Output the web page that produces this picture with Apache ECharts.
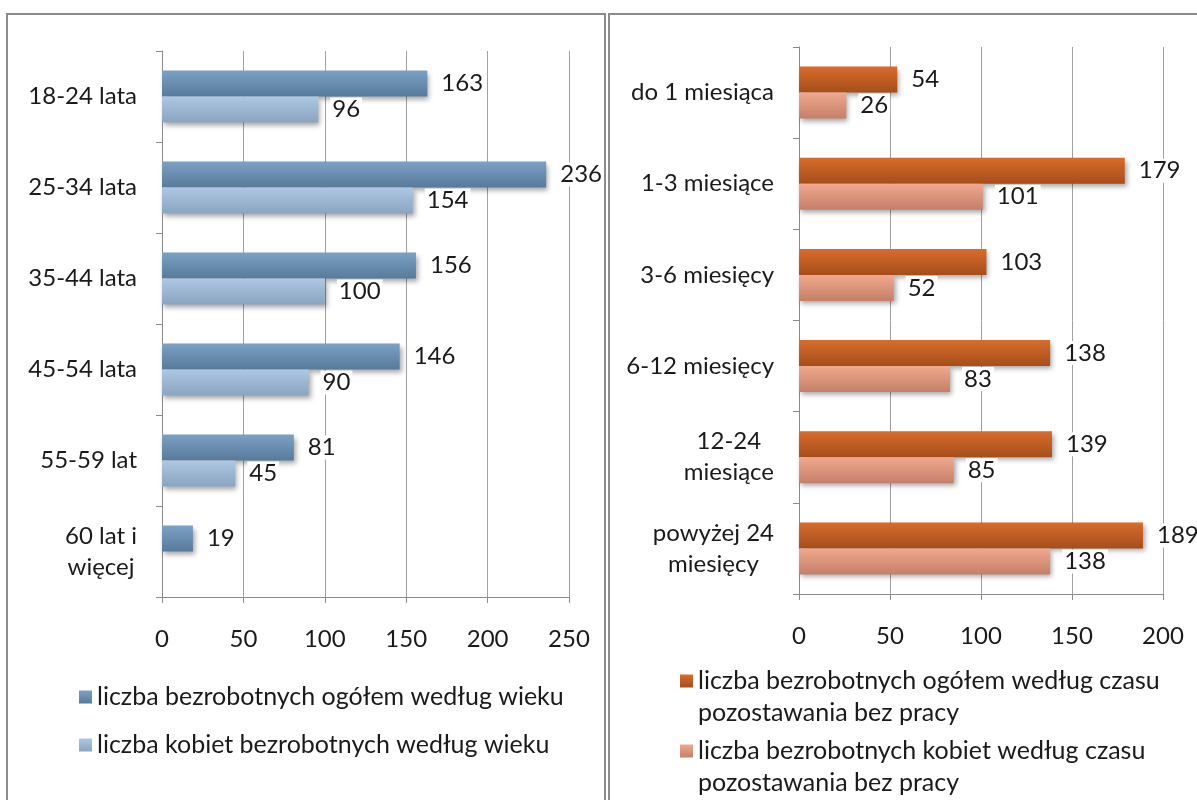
<!DOCTYPE html>
<html>
<head>
<meta charset="utf-8">
<script src="https://cdn.jsdelivr.net/npm/echarts@6/dist/echarts.min.js"></script>
<style>html,body{margin:0;padding:0;background:#fff}#c{width:1197px;height:800px}</style>
</head>
<body>
<div id="c"></div>
<script>
// ---- data ----
const ageCategories = ['18-24 lata', '25-34 lata', '35-44 lata', '45-54 lata', '55-59 lat', '60 lat i\nwięcej'];
const ageTotal = [163, 236, 156, 146, 81, 19];
const ageWomen = [96, 154, 100, 90, 45, null];
const ageTotalName = 'liczba bezrobotnych ogółem według wieku';
const ageWomenName = 'liczba kobiet bezrobotnych według wieku';

const durCategories = ['do 1 miesiąca', '1-3 miesiące', '3-6 miesięcy', '6-12 miesięcy', '12-24\nmiesiące', 'powyżej 24\nmiesięcy'];
const durTotal = [54, 179, 103, 138, 139, 189];
const durWomen = [26, 101, 52, 83, 85, 138];
const durTotalName = 'liczba bezrobotnych ogółem według czasu\npozostawania bez pracy';
const durWomenName = 'liczba bezrobotnych kobiet według czasu\npozostawania bez pracy';

const ageTicks = { min: 0, max: 250, interval: 50 };
const durTicks = { min: 0, max: 200, interval: 50 };

// ---- styling ----
const FONT = 'Lato';
const FS = 24;
const LFS = 25;
const TXT = '#1a1a1a';
const grad = (a, b) => new echarts.graphic.LinearGradient(0, 0, 0, 1, [{offset: 0, color: a}, {offset: 1, color: b}]);
const cBlue1 = grad('#7ba1c5', '#587a9a');
const cBlue2 = grad('#adc8e4', '#8ba4c0');
const cOr1 = grad('#d86c2c', '#a54e1b');
const cOr2 = grad('#f0a98d', '#c47f69');

function catLabel(v) {
  return v.split('\n').map(s => '{c|' + s + '}').join('\n');
}
const catAxisBase = (gi, cats) => ({
  type: 'category', gridIndex: gi, data: cats, inverse: true,
  axisLine: {lineStyle: {color: '#8a8a8a', width: 1}},
  axisTick: {show: true, length: 6, lineStyle: {color: '#8a8a8a'}},
  axisLabel: {
    margin: 25, formatter: catLabel,
    rich: {c: {align: 'center', fontFamily: FONT, fontSize: FS, color: TXT, lineHeight: 31}}
  },
  splitLine: {show: false}
});
const valAxisBase = (gi, t) => ({
  type: 'value', gridIndex: gi, min: t.min, max: t.max, interval: t.interval,
  axisLine: {show: true, lineStyle: {color: '#8a8a8a'}},
  axisTick: {show: true, length: 6, lineStyle: {color: '#8a8a8a'}},
  axisLabel: {margin: 30, fontFamily: FONT, fontSize: FS, color: TXT},
  splitLine: {show: true, lineStyle: {color: '#a0a0a0', width: 1}}
});
const barSeries = (name, data, color, gi) => ({
  name, type: 'bar', data, xAxisIndex: gi, yAxisIndex: gi,
  barWidth: 26, barGap: '0%',
  itemStyle: {color, shadowColor: 'rgba(0,0,0,0.35)', shadowBlur: 5, shadowOffsetX: 2, shadowOffsetY: 3},
  label: {
    show: true, position: 'right', distance: 12,
    fontFamily: FONT, fontSize: FS, color: TXT,
    backgroundColor: '#fff', padding: [0, 2]
  },
  emphasis: {disabled: true},
  animation: false
});
// leading blank line so that the square marker lines up with the first text line
const wrapLegend = n => ' \n' + n;

const chart = echarts.init(document.getElementById('c'), null, {renderer: 'canvas'});
chart.setOption({
  animation: false,
  backgroundColor: '#fff',
  grid: [
    {left: 162, top: 51, width: 407, height: 546, containLabel: false},
    {left: 799, top: 47, width: 364, height: 547, containLabel: false}
  ],
  xAxis: [valAxisBase(0, ageTicks), valAxisBase(1, durTicks)],
  yAxis: [catAxisBase(0, ageCategories), catAxisBase(1, durCategories)],
  legend: [
    {
      data: [ageTotalName, ageWomenName], orient: 'vertical', left: 79, top: 682, padding: 0,
      icon: 'rect', itemWidth: 13, itemHeight: 13, itemGap: 18, selectedMode: false,
      textStyle: {fontFamily: FONT, fontSize: LFS, color: TXT, lineHeight: 30}
    },
    {
      data: [durTotalName], orient: 'vertical', left: 680, top: 633, padding: 0,
      icon: 'rect', itemWidth: 13, itemHeight: 13, selectedMode: false, formatter: wrapLegend,
      textStyle: {fontFamily: FONT, fontSize: LFS, color: TXT, lineHeight: 32}
    },
    {
      data: [durWomenName], orient: 'vertical', left: 680, top: 703, padding: 0,
      icon: 'rect', itemWidth: 13, itemHeight: 13, selectedMode: false, formatter: wrapLegend,
      textStyle: {fontFamily: FONT, fontSize: LFS, color: TXT, lineHeight: 32}
    }
  ],
  graphic: [
    {type: 'rect', shape: {x: 7, y: 14, width: 598, height: 800}, style: {fill: 'none', stroke: '#8c8c8c', lineWidth: 2}, z: 100},
    {type: 'rect', shape: {x: 609, y: 14, width: 620, height: 800}, style: {fill: 'none', stroke: '#8c8c8c', lineWidth: 2}, z: 100}
  ],
  series: [
    barSeries(ageTotalName, ageTotal, cBlue1, 0),
    barSeries(ageWomenName, ageWomen, cBlue2, 0),
    barSeries(durTotalName, durTotal, cOr1, 1),
    barSeries(durWomenName, durWomen, cOr2, 1)
  ]
});
</script>
</body>
</html>
